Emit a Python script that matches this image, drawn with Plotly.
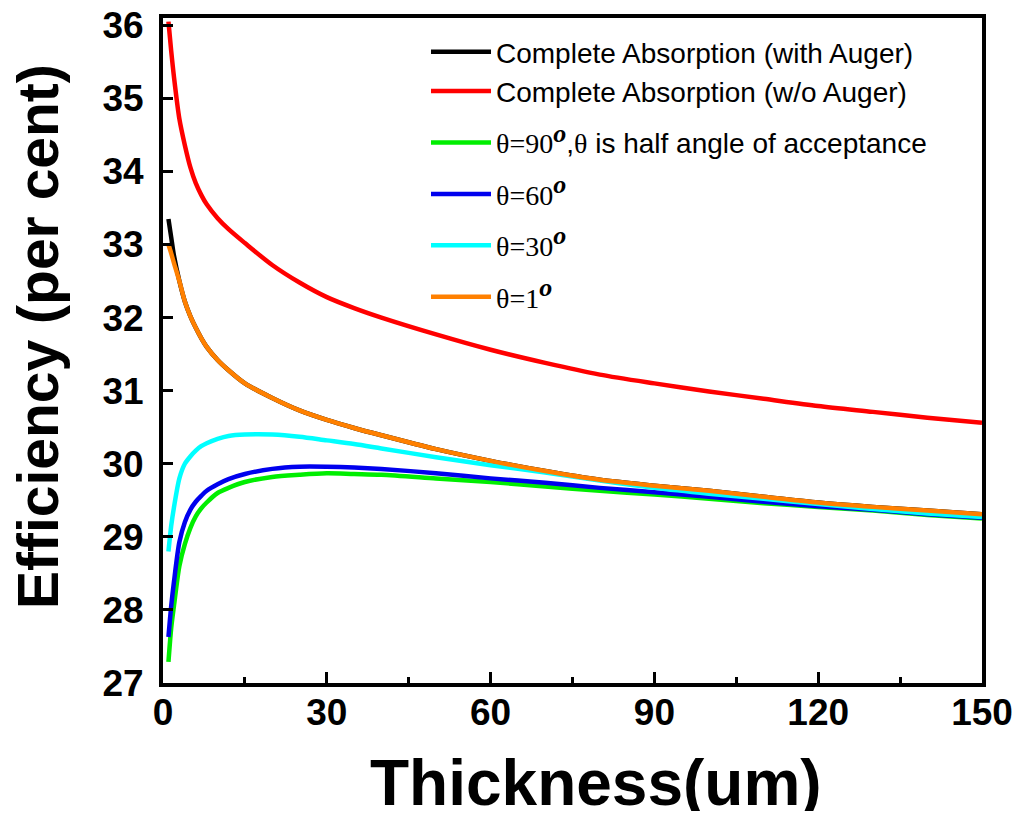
import plotly.graph_objects as go

# Thickness (um)
thickness = [1, 1.5, 2, 3, 4, 5, 6, 7, 8, 10, 12, 15, 20, 25, 30, 35, 40, 50, 60,
             70, 80, 90, 100, 110, 120, 130, 140, 150]

# Efficiency (per cent)
eff_with_auger = [33.35, 33.1, 32.85, 32.5, 32.22, 32.02, 31.86, 31.72, 31.6, 31.42,
                  31.28, 31.1, 30.9, 30.73, 30.6, 30.49, 30.39, 30.2, 30.04, 29.9,
                  29.78, 29.7, 29.63, 29.55, 29.47, 29.41, 29.36, 29.31]
eff_wo_auger = [36.05, 35.65, 35.3, 34.72, 34.36, 34.06, 33.84, 33.68, 33.55, 33.36,
                33.21, 33.02, 32.72, 32.48, 32.28, 32.13, 32.0, 31.77, 31.56, 31.38,
                31.22, 31.1, 30.99, 30.89, 30.79, 30.71, 30.63, 30.56]
eff_theta90 = [27.29, 27.75, 28.05, 28.6, 28.9, 29.12, 29.28, 29.39, 29.47, 29.6,
               29.67, 29.75, 29.82, 29.85, 29.87, 29.86, 29.85, 29.8, 29.75, 29.69,
               29.63, 29.58, 29.52, 29.46, 29.41, 29.36, 29.3, 29.25]
eff_theta60 = [27.63, 28.05, 28.38, 28.93, 29.2, 29.37, 29.48, 29.56, 29.63, 29.72,
               29.79, 29.86, 29.93, 29.96, 29.96, 29.95, 29.93, 29.87, 29.8, 29.74,
               29.67, 29.61, 29.55, 29.48, 29.42, 29.37, 29.31, 29.26]
eff_theta30 = [28.8, 29.15, 29.4, 29.8, 30.0, 30.1, 30.18, 30.24, 30.28, 30.34,
               30.38, 30.4, 30.4, 30.37, 30.32, 30.27, 30.21, 30.09, 29.98, 29.88,
               29.77, 29.67, 29.59, 29.52, 29.45, 29.38, 29.32, 29.27]
eff_theta1 = [33.0, 32.88, 32.75, 32.5, 32.22, 32.02, 31.86, 31.72, 31.6, 31.42,
              31.28, 31.1, 30.9, 30.73, 30.6, 30.49, 30.39, 30.2, 30.04, 29.9,
              29.78, 29.7, 29.63, 29.55, 29.47, 29.41, 29.36, 29.31]

x_ticks = [0, 30, 60, 90, 120, 150]
y_ticks = [27, 28, 29, 30, 31, 32, 33, 34, 35, 36]

SERIF = "Liberation Serif, Times New Roman, serif"
SANS = "Liberation Sans, Arial, sans-serif"


def theta(txt, rest=""):
    return (f'<span style="font-family:{SERIF}">{txt}</span>'
            f'<sup><b><i><span style="font-family:{SERIF};font-size:26px">o</span></i></b></sup>{rest}')


series = [
    ("Complete Absorption (with Auger)", eff_with_auger, "#000000", "a"),
    ("Complete Absorption (w/o Auger)", eff_wo_auger, "#ff0000", "a"),
    (theta("θ=90", f',<span style="font-family:{SERIF}">θ</span> is half angle of acceptance'),
     eff_theta90, "#00ee00", "b"),
    (theta("θ=60"), eff_theta60, "#0000ee", "c"),
    (theta("θ=30"), eff_theta30, "#00ffff", "d"),
    (theta("θ=1"), eff_theta1, "#ff8000", "e"),
]

fig = go.Figure()
for name, vals, color, grp in series:
    fig.add_trace(go.Scatter(
        x=thickness, y=vals, mode="lines", name=name, legendgroup=grp,
        line=dict(color=color, width=4.5, shape="spline", smoothing=0.8),
    ))

# the page body has an 8px default margin, so work in figure coords = screen - 8
OFF = 8
W, H = 1020 - 2 * OFF, 819 - 2 * OFF
L, R, T, B = 163 - OFF, 982 - OFF, 18 - OFF, 683 - OFF

tickfont = dict(family=SANS, size=37, color="black", weight="bold")

fig.update_layout(
    width=W, height=H,
    margin=dict(l=L, r=W - R, t=T, b=H - B, pad=0),
    paper_bgcolor="white", plot_bgcolor="white",
    showlegend=True,
    legend=dict(
        x=(426 - OFF - L) / (R - L), y=1.0 - 9 / (B - T), xanchor="left", yanchor="top",
        bgcolor="rgba(0,0,0,0)", borderwidth=0,
        font=dict(family=SANS, size=28, color="black"),
        traceorder="grouped", tracegroupgap=12, itemwidth=60,
    ),
    xaxis=dict(
        range=[0, 150], tickvals=x_ticks, ticktext=[str(v) for v in x_ticks],
        showgrid=False, zeroline=False, automargin=False,
        showline=True, linecolor="black", linewidth=4, mirror=True,
        ticks="inside", ticklen=11, tickwidth=3, tickcolor="black",
        tickfont=tickfont, ticklabelstandoff=-6, ticklabeloverflow="allow",
        minor=dict(tickvals=[15, 45, 75, 105, 135], ticks="inside", ticklen=6,
                   tickwidth=3, tickcolor="black"),
    ),
    yaxis=dict(
        range=[27, 36.1], tickvals=y_ticks, ticktext=[str(v) for v in y_ticks],
        showgrid=False, zeroline=False, automargin=False,
        showline=True, linecolor="black", linewidth=4, mirror=True,
        ticks="inside", ticklen=10, tickwidth=3, tickcolor="black",
        tickfont=tickfont, ticklabelstandoff=8, ticklabeloverflow="allow",
    ),
    annotations=[
        dict(text="Thickness(um)", xref="paper", yref="paper",
             x=(596 - OFF - L) / (R - L), y=-(783 - OFF - B) / (B - T),
             xanchor="center", yanchor="middle", showarrow=False,
             font=dict(family=SANS, size=64, color="black", weight="bold")),
        dict(text="Efficiency (per cent)", xref="paper", yref="paper",
             x=-(L - (38 - OFF)) / (R - L), y=(B - (337 - OFF)) / (B - T),
             xanchor="center", yanchor="middle", textangle=-90, showarrow=False,
             font=dict(family=SANS, size=57, color="black", weight="bold")),
    ],
)

fig.write_html("out.html")
